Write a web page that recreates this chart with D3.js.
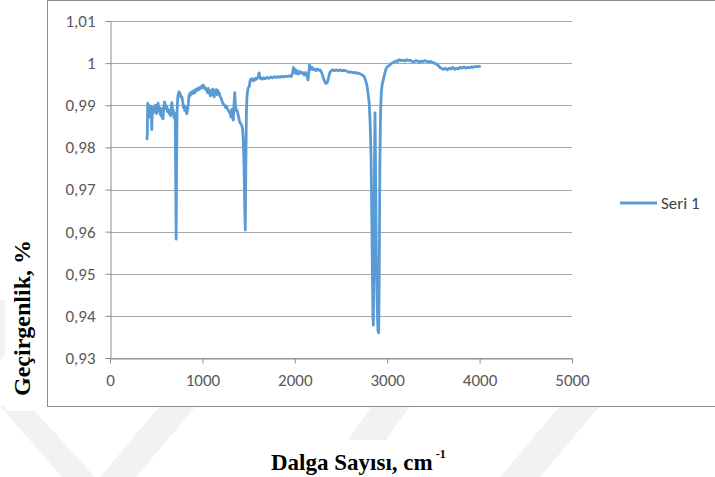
<!DOCTYPE html>
<html>
<head>
<meta charset="utf-8">
<script src="https://cdn.jsdelivr.net/npm/d3@7"></script>
<style>
  html, body { margin: 0; padding: 0; background: #fff; }
  svg { display: block; }
</style>
</head>
<body>
<div id="container"></div>
<script>
// wavenumber (cm-1) and transmittance
const wavenumbers = [
  400, 404, 408, 414, 420, 426, 432, 440, 446, 452, 458, 466, 474, 482, 490, 498,
  506, 514, 520, 528, 536, 544, 552, 560, 566, 574, 582, 590, 598, 606, 614, 622,
  630, 640, 648, 656, 664, 670, 678, 686, 693, 700, 706, 712, 716, 720, 726, 732,
  738, 746, 754, 762, 770, 778, 786, 794, 800, 808, 816, 824, 832, 840, 848, 856,
  864, 872, 880, 890, 900, 910, 920, 930, 940, 950, 960, 970, 980, 990, 1000, 1008,
  1016, 1024, 1032, 1040, 1048, 1056, 1064, 1072, 1080, 1088, 1096, 1104, 1112, 1120, 1128, 1136,
  1144, 1152, 1160, 1168, 1176, 1184, 1192, 1200, 1210, 1220, 1230, 1240, 1250, 1260, 1270, 1280,
  1290, 1300, 1310, 1318, 1326, 1334, 1342, 1350, 1356, 1362, 1370, 1378, 1386, 1394, 1402, 1410,
  1418, 1426, 1434, 1442, 1450, 1458, 1464, 1470, 1476, 1482, 1490, 1498, 1508, 1516, 1524, 1532,
  1540, 1548, 1556, 1566, 1576, 1586, 1596, 1606, 1614, 1620, 1630, 1640, 1650, 1660, 1680, 1700,
  1720, 1740, 1760, 1780, 1800, 1820, 1840, 1860, 1880, 1900, 1920, 1940, 1960, 1975, 1985, 1995,
  2005, 2015, 2025, 2040, 2055, 2070, 2085, 2100, 2115, 2130, 2142, 2150, 2160, 2172, 2185, 2200,
  2215, 2230, 2245, 2260, 2275, 2290, 2305, 2320, 2335, 2350, 2365, 2380, 2395, 2410, 2430, 2450,
  2470, 2490, 2510, 2530, 2550, 2570, 2590, 2610, 2630, 2650, 2670, 2690, 2710, 2730, 2750, 2765,
  2780, 2792, 2805, 2815, 2825, 2835, 2845, 2850, 2856, 2862, 2868, 2874, 2882, 2892, 2900, 2908,
  2914, 2920, 2928, 2936, 2946, 2958, 2970, 2985, 3000, 3020, 3040, 3060, 3080, 3100, 3115, 3130,
  3150, 3170, 3190, 3210, 3230, 3250, 3270, 3290, 3310, 3330, 3350, 3370, 3390, 3410, 3430, 3450,
  3470, 3490, 3510, 3530, 3550, 3570, 3590, 3610, 3630, 3650, 3670, 3690, 3710, 3730, 3750, 3770,
  3790, 3810, 3830, 3850, 3870, 3890, 3910, 3930, 3950, 3970, 3985, 4000
]

const seri1 = [
  0.9820, 0.9830, 0.9905, 0.9880, 0.9900, 0.9872, 0.9895, 0.9885, 0.9898, 0.9842, 0.9890, 0.9880, 0.9895, 0.9885, 0.9900, 0.9890,
  0.9880, 0.9895, 0.9905, 0.9888, 0.9895, 0.9880, 0.9875, 0.9892, 0.9870, 0.9868, 0.9895, 0.9908, 0.9902, 0.9892, 0.9898, 0.9885,
  0.9890, 0.9880, 0.9888, 0.9875, 0.9898, 0.9906, 0.9880, 0.9888, 0.9870, 0.9882, 0.9870, 0.9700, 0.9582, 0.9750, 0.9880, 0.9915,
  0.9925, 0.9932, 0.9930, 0.9925, 0.9918, 0.9920, 0.9910, 0.9895, 0.9900, 0.9888, 0.9895, 0.9885, 0.9880, 0.9890, 0.9905, 0.9925,
  0.9922, 0.9930, 0.9926, 0.9932, 0.9928, 0.9935, 0.9930, 0.9938, 0.9935, 0.9940, 0.9937, 0.9942, 0.9940, 0.9945, 0.9942, 0.9948,
  0.9943, 0.9940, 0.9942, 0.9936, 0.9938, 0.9930, 0.9940, 0.9928, 0.9932, 0.9922, 0.9935, 0.9925, 0.9938, 0.9932, 0.9920, 0.9936,
  0.9930, 0.9937, 0.9925, 0.9935, 0.9930, 0.9928, 0.9920, 0.9918, 0.9912, 0.9905, 0.9902, 0.9900, 0.9895, 0.9898, 0.9892, 0.9888,
  0.9885, 0.9880, 0.9872, 0.9890, 0.9882, 0.9865, 0.9900, 0.9930, 0.9905, 0.9888, 0.9890, 0.9886, 0.9878, 0.9870, 0.9862, 0.9858,
  0.9855, 0.9852, 0.9845, 0.9820, 0.9760, 0.9660, 0.9604, 0.9750, 0.9880, 0.9920, 0.9935, 0.9942, 0.9945, 0.9958, 0.9962, 0.9960,
  0.9963, 0.9958, 0.9962, 0.9960, 0.9964, 0.9962, 0.9965, 0.9968, 0.9977, 0.9966, 0.9963, 0.9965, 0.9962, 0.9965, 0.9963, 0.9966,
  0.9964, 0.9967, 0.9965, 0.9968, 0.9966, 0.9968, 0.9966, 0.9969, 0.9967, 0.9969, 0.9968, 0.9970, 0.9968, 0.9975, 0.9990, 0.9978,
  0.9985, 0.9975, 0.9982, 0.9974, 0.9980, 0.9976, 0.9978, 0.9972, 0.9978, 0.9970, 0.9960, 0.9975, 0.9996, 0.9985, 0.9990, 0.9984,
  0.9986, 0.9982, 0.9986, 0.9983, 0.9984, 0.9978, 0.9968, 0.9958, 0.9952, 0.9953, 0.9965, 0.9978, 0.9982, 0.9984, 0.9982, 0.9984,
  0.9982, 0.9984, 0.9982, 0.9983, 0.9982, 0.9980, 0.9978, 0.9979, 0.9977, 0.9978, 0.9976, 0.9976, 0.9974, 0.9972, 0.9968, 0.9960,
  0.9948, 0.9930, 0.9905, 0.9860, 0.9780, 0.9600, 0.9400, 0.9378, 0.9500, 0.9750, 0.9882, 0.9750, 0.9550, 0.9420, 0.9365, 0.9360,
  0.9500, 0.9750, 0.9880, 0.9930, 0.9950, 0.9960, 0.9972, 0.9985, 0.9991, 0.9994, 0.9998, 1.0001, 1.0003, 1.0006, 1.0004, 1.0008,
  1.0006, 1.0007, 1.0005, 1.0008, 1.0006, 1.0007, 1.0004, 1.0003, 1.0006, 1.0005, 1.0002, 1.0005, 1.0004, 1.0006, 1.0004, 1.0003,
  1.0004, 1.0002, 1.0000, 0.9998, 0.9995, 0.9990, 0.9987, 0.9985, 0.9988, 0.9984, 0.9988, 0.9986, 0.9990, 0.9985, 0.9988, 0.9986,
  0.9990, 0.9988, 0.9991, 0.9988, 0.9990, 0.9989, 0.9991, 0.9990, 0.9992, 0.9991, 0.9993, 0.9992
]

const xTicks = [0, 1000, 2000, 3000, 4000, 5000]
const yTicks = [0.93, 0.94, 0.95, 0.96, 0.97, 0.98, 0.99, 1, 1.01]
const seriesName = "Seri 1"

const points = wavenumbers.map((w, i) => ({ x: w, y: seri1[i] }))

const width = 715, height = 477
const plot = { left: 110, right: 572, top: 21, bottom: 358 }
const labelFont = "Carlito, Calibri, Lato, sans-serif"

const svg = d3.select("div#container")
    .append("svg")
    .attr("width", width)
    .attr("height", height)

// faint watermark bands behind the page
const bands = [
    [[0, 406], [30, 406], [95, 477], [62, 477]],
    [[160, 406], [196, 406], [136, 477], [100, 477]],
    [[372, 406], [410, 406], [360, 477], [322, 477]],
    [[560, 406], [600, 406], [540, 477], [500, 477]],
    [[0, 300], [25, 300], [25, 330], [0, 360]]
]
svg.selectAll("polygon.wm")
    .data(bands)
    .enter()
    .append("polygon")
    .attr("class", "wm")
    .attr("points", d => d.map(p => p.join(",")).join(" "))
    .attr("fill", "#f2f2f2")

// chart box
svg.append("rect")
    .attr("x", 47.5)
    .attr("y", 0.5)
    .attr("width", 720)
    .attr("height", 406)
    .attr("fill", "#fff")
    .attr("stroke", "#8c8c8c")

const x = d3.scaleLinear().domain([0, 5000]).range([plot.left, plot.right])
const y = d3.scaleLinear().domain([0.93, 1.01]).range([plot.bottom, plot.top])

const loc = d3.formatLocale({ decimal: ",", thousands: ".", grouping: [3], currency: ["", ""] })
const fmt = loc.format("~g")

// gridlines
svg.append("g")
    .selectAll("line")
    .data(yTicks)
    .enter()
    .append("line")
    .attr("x1", plot.left)
    .attr("x2", plot.right)
    .attr("y1", d => Math.round(y(d)) + 0.5)
    .attr("y2", d => Math.round(y(d)) + 0.5)
    .attr("stroke", "#a6a6a6")

const yAxis = svg.append("g")
    .attr("transform", `translate(${plot.left + 0.5},0)`)
    .call(d3.axisLeft(y).tickValues(yTicks).tickFormat(fmt).tickSize(5).tickPadding(10))

const xAxis = svg.append("g")
    .attr("transform", `translate(0,${plot.bottom + 0.5})`)
    .call(d3.axisBottom(x).tickValues(xTicks).tickFormat(fmt).tickSize(5).tickSizeOuter(0).tickPadding(10))

for (const ax of [xAxis, yAxis]) {
    ax.attr("font-family", labelFont).attr("font-size", 17)
    ax.select(".domain").attr("stroke", "#8c8c8c")
    ax.selectAll(".tick line").attr("stroke", "#8c8c8c")
    ax.selectAll(".tick text").attr("fill", "#595959")
}

const line = d3.line()
    .x(d => x(d.x))
    .y(d => y(d.y))

svg.append("path")
    .datum(points)
    .attr("fill", "none")
    .attr("stroke", "#5b9bd5")
    .attr("stroke-width", 2.8)
    .attr("stroke-linejoin", "round")
    .attr("stroke-linecap", "round")
    .attr("d", line)

// legend
const legend = svg.append("g").attr("transform", "translate(620,203)")
legend.append("line")
    .attr("x1", 0).attr("x2", 37)
    .attr("stroke", "#5b9bd5")
    .attr("stroke-width", 2.8)
legend.append("text")
    .attr("x", 41)
    .attr("dy", "0.35em")
    .attr("font-family", labelFont)
    .attr("font-size", 17)
    .attr("fill", "#404040")
    .text(seriesName)

// y title with white backing
svg.append("rect")
    .attr("x", 5).attr("y", 225)
    .attr("width", 36).attr("height", 186)
    .attr("fill", "#fff")
svg.append("text")
    .attr("transform", "translate(22,318) rotate(-90)")
    .attr("text-anchor", "middle")
    .attr("dy", "0.35em")
    .style("font-family", "'Liberation Serif', 'Times New Roman', serif")
    .style("font-weight", "bold")
    .style("font-size", "24px")
    .style("fill", "#000")
    .text("Geçirgenlik, %")

// x title with white backing
svg.append("rect")
    .attr("x", 247).attr("y", 440)
    .attr("width", 231).attr("height", 37)
    .attr("fill", "#fff")
const xt = svg.append("text")
    .attr("x", 271)
    .attr("y", 470)
    .style("font-family", "'Liberation Serif', 'Times New Roman', serif")
    .style("font-weight", "bold")
    .style("font-size", "23px")
    .style("fill", "#000")
xt.append("tspan").text("Dalga Sayısı, cm")
xt.append("tspan")
    .attr("dx", 3)
    .attr("dy", -12)
    .style("font-size", "12px")
    .text("-1")
</script>
</body>
</html>
